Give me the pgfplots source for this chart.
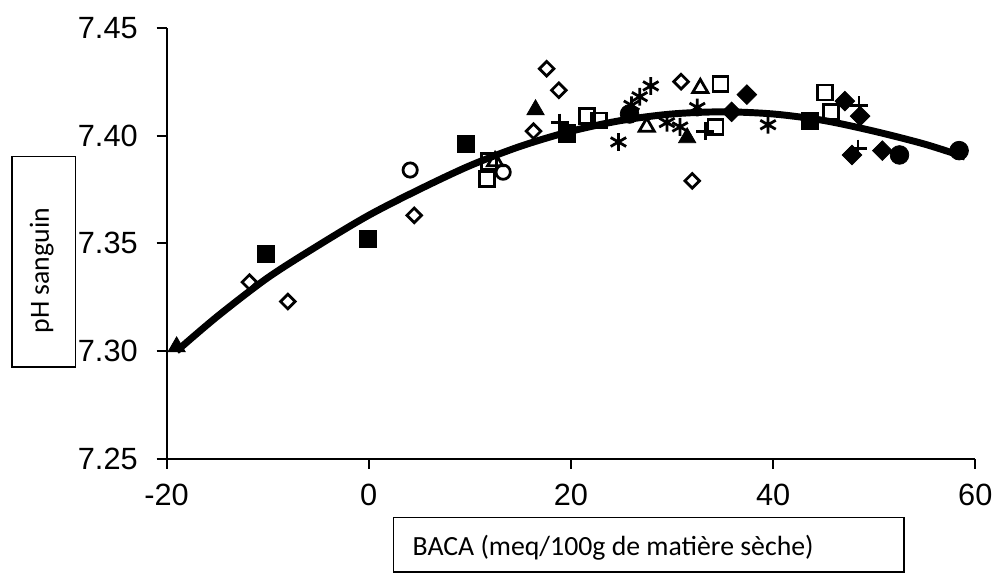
\documentclass[border=0pt]{standalone}
\usepackage{fontspec}
\setmainfont{Liberation Sans}
\newfontfamily\calibri{Carlito}
\usepackage{pgfplots}
\pgfplotsset{compat=1.18}

\begin{document}
\begin{tikzpicture}
\begin{axis}[
  at={(0pt,0pt)}, anchor=south west,
  scale only axis, width=408pt, height=217.5pt,
  xmin=-20, xmax=60, ymin=7.25, ymax=7.45,
  axis lines*=left, clip=false,
  axis line style={line width=1pt},
  tick align=outside, major tick length=5pt,
  tick style={black, line width=1pt},
  xtick={-20,0,20,40,60}, xticklabels={-20,0,20,40,60},
  ytick={7.25,7.30,7.35,7.40,7.45}, yticklabels={7.25,7.30,7.35,7.40,7.45},
  tick label style={font=\fontsize{15.5}{17}\selectfont},
  yticklabel style={xshift=-6pt},
  xticklabel style={yshift=-4pt},
  every axis plot/.append style={black},
]
% filled squares
\addplot[only marks, mark=square*, mark size=4.3pt] coordinates {
  (-10.2,7.345) (-0.1,7.352) (9.6,7.396) (19.6,7.401) (43.6,7.407)};
% open squares
\addplot[only marks, mark=square, mark size=3.8pt, mark options={line width=1.4pt}] coordinates {
  (11.7,7.380) (11.9,7.388) (21.6,7.409) (22.8,7.407) (34.3,7.404)
  (34.8,7.424) (45.1,7.420) (45.7,7.411)};
% open diamonds
\addplot[only marks, mark=square, mark size=2.6pt, mark options={rotate=45, line width=1.4pt}] coordinates {
  (-11.8,7.332) (-8.0,7.323) (4.5,7.363) (16.3,7.402) (17.6,7.431)
  (18.8,7.421) (30.9,7.425) (32.0,7.379)};
% filled diamonds
\addplot[only marks, mark=square*, mark size=3.5pt, mark options={rotate=45}] coordinates {
  (35.9,7.411) (37.4,7.419) (47.1,7.416) (48.6,7.409) (47.8,7.391) (50.8,7.393)};
% open circles
\addplot[only marks, mark=o, mark size=3.6pt, mark options={line width=1.4pt}] coordinates {
  (4.1,7.384) (13.3,7.383)};
% filled circles
\addplot[only marks, mark=*, mark size=4.7pt] coordinates {
  (25.8,7.410) (52.5,7.391) (58.4,7.393)};
% open triangles
\addplot[only marks, mark=triangle, mark size=4.4pt, mark options={line width=1.4pt}] coordinates {
  (12.5,7.388) (27.5,7.404) (32.8,7.422)};
% filled triangles
\addplot[only marks, mark=triangle*, mark size=5pt] coordinates {
  (-19.0,7.302) (16.5,7.412) (31.5,7.399)};
% plus
\addplot[only marks, mark=+, mark size=4.5pt, mark options={line width=1.4pt}] coordinates {
  (18.9,7.406) (33.3,7.402) (48.5,7.414) (48.4,7.394)};
% asterisks
\addplot[only marks, mark=asterisk, mark size=4.5pt, mark options={line width=1.4pt}] coordinates {
  (24.7,7.397) (26.0,7.414) (26.8,7.418) (27.9,7.423) (29.5,7.406)
  (30.8,7.404) (32.5,7.413) (39.5,7.405)};
% fitted curve
\addplot[no marks, smooth, line width=3.5pt] coordinates {
  (-19,7.300) (-15,7.316) (-10,7.334) (-5,7.349) (0,7.363) (5,7.375)
  (10,7.386) (15,7.395) (20,7.402) (25,7.407) (30,7.410) (35,7.411)
  (40,7.410) (45,7.407) (50,7.402) (55,7.396) (59,7.390)};
\end{axis}
% label boxes
\draw[line width=0.8pt] (-78pt,46.5pt) rectangle (-46pt,152.5pt);
\node[rotate=90, inner sep=0pt, font=\calibri\fontsize{14}{16}\selectfont] at (-63pt,95pt) {pH sanguin};
\draw[line width=0.8pt] (114.5pt,-57pt) rectangle (372pt,-29.5pt);
\node[anchor=base west, inner sep=0pt, font=\calibri\fontsize{14}{16}\selectfont] at (124pt,-48.5pt) {BACA (meq/100g de matière sèche)};
\path (-84pt,-57.5pt) rectangle (415.5pt,231.5pt);
\end{tikzpicture}
\end{document}
